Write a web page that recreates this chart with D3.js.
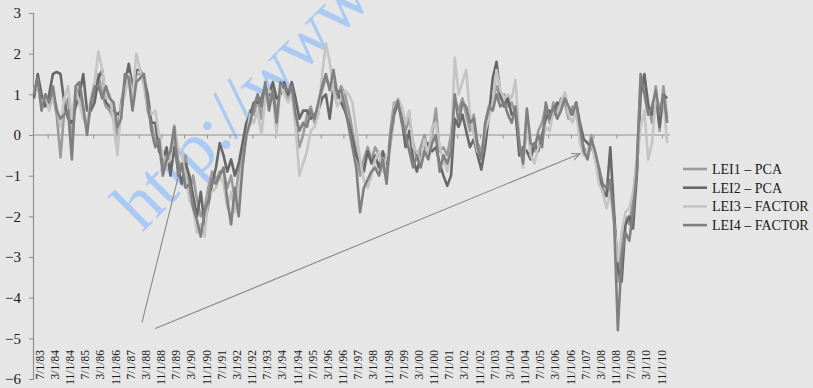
<!DOCTYPE html>
<html>
<head>
<meta charset="utf-8">
<script src="https://cdn.jsdelivr.net/npm/d3@7"></script>
<style>
  html, body { margin: 0; padding: 0; background: #e6e6e6; }
  svg { display: block; }
</style>
</head>
<body>
<svg id="chart" width="813" height="388"></svg>
<script>
// Monthly category axis: April 1983 through March 2011
const firstMonth = new Date(1983, 3, 1);
const lastMonth = new Date(2011, 2, 1);

// Category labels shown every eighth month
const tickLabels = [
  "7/1/83","3/1/84","11/1/84","7/1/85","3/1/86","11/1/86","7/1/87","3/1/88",
  "11/1/88","7/1/89","3/1/90","11/1/90","7/1/91","3/1/92","11/1/92","7/1/93",
  "3/1/94","11/1/94","7/1/95","3/1/96","11/1/96","7/1/97","3/1/98","11/1/98",
  "7/1/99","3/1/00","11/1/00","7/1/01","3/1/02","11/1/02","7/1/03","3/1/04",
  "11/1/04","7/1/05","3/1/06","11/1/06","7/1/07","3/1/08","11/1/08","7/1/09",
  "3/1/10","11/1/10"
];

const yTicks = [3, 2, 1, 0, -1, -2, -3, -4, -5, -6];

const seriesNames = ["LEI1 \u2013 PCA", "LEI2 \u2013 PCA", "LEI3 \u2013 FACTOR", "LEI4 \u2013 FACTOR"];
const seriesColors = ["#9b9b9b", "#686868", "#c4c4c4", "#808080"];

// Index readings, one every two months starting April 1983
const lei1 = [
  1.0,1.3,0.8,0.9,0.7,1.0,0.5,-0.55,0.6,0.9,-0.2,0.9,1.2,0.5,0.2,0.7,1.0,1.5,1.0,0.7,
  0.6,0.4,0.0,0.8,1.3,1.7,0.8,1.5,1.5,1.3,0.6,0.3,-0.2,-0.3,-0.8,-0.4,-0.9,0.2,-0.6,-0.9,
  -0.5,-1.4,-1.0,-1.6,-2.0,-1.8,-1.3,-0.9,-1.1,-0.9,-0.9,-1.3,-1.0,-1.6,-0.9,-0.4,0.1,0.6,0.5,0.9,
  0.4,1.1,0.8,1.2,0.5,1.1,1.2,0.9,1.2,0.3,-0.3,0.0,0.5,0.7,0.3,0.7,1.1,1.4,1.2,1.3,
  0.9,1.2,1.0,0.6,0.1,-0.4,-1.0,-0.6,-0.3,-0.6,-0.3,-0.5,-0.7,-1.0,0.1,0.8,0.7,0.5,0.1,0.4,
  -0.2,-0.6,-0.3,0.0,-0.4,0.0,0.65,-0.4,-0.3,-0.5,0.0,0.9,0.6,0.9,0.5,0.1,0.5,-0.2,-0.4,0.0,
  0.6,0.9,1.2,0.9,1.0,0.7,0.8,0.5,-0.3,-0.6,0.2,-0.3,-0.4,0.1,0.3,0.7,0.3,0.8,0.6,0.9,
  0.8,0.4,0.7,0.5,0.1,-0.3,-0.5,0.0,-0.6,-0.9,-1.3,-1.5,-1.2,-2.0,-3.6,-2.7,-2.0,-2.2,-1.6,-0.6,
  1.3,1.4,0.8,0.3,1.2,0.1,1.2,0.4
];
const lei2 = [
  0.9,1.5,1.0,0.7,1.0,1.5,1.55,1.5,0.8,0.4,0.3,0.7,1.0,1.5,0.6,0.6,0.8,1.4,1.6,0.8,
  0.7,0.6,0.5,0.6,1.2,1.75,1.2,1.6,1.6,1.4,1.0,0.3,0.3,-0.4,-0.6,-0.3,-1.0,-0.3,-0.8,-1.2,
  -0.7,-1.0,-1.5,-2.0,-1.4,-2.2,-1.7,-1.2,-0.8,-0.2,-0.5,-0.9,-0.6,-1.0,-0.7,-0.2,0.3,0.5,0.8,0.8,
  0.9,1.2,1.0,1.3,0.9,1.0,1.3,1.0,1.3,0.9,0.4,0.6,0.6,0.4,0.5,0.6,0.9,1.0,0.4,1.2,
  1.1,0.8,0.6,0.3,-0.1,-0.5,-0.7,-0.9,-0.4,-0.7,-0.5,-0.8,-0.4,-0.7,-0.2,0.5,0.8,0.4,-0.3,0.1,
  -0.6,-0.9,-0.5,-0.3,-0.2,-0.4,-0.3,-0.7,-1.0,-1.25,-1.0,0.4,0.2,0.5,0.1,-0.3,-0.1,-0.5,-0.85,-0.3,
  0.5,1.4,1.8,1.0,0.7,0.9,0.5,0.6,-0.5,-0.3,-0.4,-0.6,-0.2,-0.4,0.0,0.4,0.6,0.5,0.8,0.7,
  1.0,0.6,0.5,0.8,0.3,-0.1,-0.2,-0.3,-0.5,-1.0,-1.4,-1.5,-0.3,-1.9,-3.3,-3.6,-2.2,-2.0,-2.3,-1.0,
  1.0,1.5,0.7,0.5,1.0,0.2,1.0,0.9
];
const lei3 = [
  1.1,1.2,0.7,1.0,0.6,0.9,0.7,0.2,0.9,1.2,0.4,1.1,0.8,0.4,0.3,0.9,1.3,2.05,1.6,0.9,
  1.0,0.3,-0.5,0.7,1.0,1.5,0.9,2.0,1.6,1.2,0.7,0.5,0.6,0.0,-0.5,-0.7,-0.6,0.25,-0.3,-0.5,
  -1.0,-1.6,-1.8,-2.4,-2.2,-2.5,-1.5,-1.4,-1.3,-1.0,-1.2,-1.8,-1.4,-1.9,-1.3,-0.7,-0.1,0.5,0.3,0.6,
  0.0,0.9,1.1,1.0,0.0,1.2,1.0,0.8,1.0,0.2,-1.0,-0.7,-0.4,0.1,0.2,0.5,1.5,2.25,1.8,1.1,
  0.7,0.9,1.1,1.0,0.8,0.1,-0.6,-1.1,-1.3,-1.0,-0.6,-0.4,-0.9,-0.5,-0.3,0.7,0.9,0.7,0.3,0.6,
  -0.3,-0.4,-0.7,-0.1,-0.5,0.2,0.3,-0.3,-0.6,-0.9,-0.3,1.9,1.0,1.3,1.6,0.5,0.0,-0.4,-0.5,0.1,
  0.4,0.8,1.6,1.1,0.9,1.0,0.9,1.35,-0.1,-0.8,0.3,-0.5,-0.7,-0.3,-0.2,0.2,0.1,0.6,0.5,0.8,
  1.05,0.5,0.3,0.6,-0.2,-0.5,-0.4,-0.2,-0.6,-1.2,-1.4,-1.8,-1.4,-2.2,-3.1,-2.4,-1.9,-1.8,-1.4,-0.7,
  0.2,0.6,-0.6,-0.2,0.9,0.7,0.9,-0.2
];
const lei4 = [
  1.0,1.4,0.6,1.0,0.8,1.2,0.6,0.4,0.5,0.6,-0.6,1.2,1.3,0.7,0.0,0.8,1.2,1.2,0.9,1.2,
  0.9,0.8,0.2,0.4,1.5,1.4,0.6,1.3,1.4,1.5,0.8,0.1,-0.3,-0.1,-1.0,-0.6,-0.4,0.2,-1.0,-0.7,
  -1.3,-1.2,-1.8,-2.1,-2.5,-1.9,-1.6,-1.1,-1.2,-1.0,-0.8,-1.6,-2.2,-1.3,-2.0,-0.8,0.0,0.3,0.7,1.0,
  0.7,1.3,0.6,1.1,0.3,1.3,1.2,1.1,1.2,0.5,0.1,0.3,0.2,0.6,0.4,0.8,1.2,1.5,1.1,1.6,
  1.0,1.1,0.7,0.2,-0.3,-0.8,-1.9,-1.3,-1.1,-0.9,-0.8,-1.0,-0.6,-1.2,-0.1,0.6,0.85,0.3,0.0,-0.4,
  -0.8,-0.5,-0.8,-0.4,-0.6,-0.2,0.0,-0.9,-0.5,-0.7,-0.4,1.0,0.3,0.8,0.7,0.3,0.4,-0.3,-0.6,0.3,
  0.7,0.6,1.0,0.7,0.8,0.5,0.3,0.7,-0.2,-0.7,0.65,-0.2,-0.3,0.0,-0.3,0.8,0.4,0.7,0.4,0.6,
  0.9,0.7,0.5,0.8,0.2,-0.4,-0.6,-0.1,-0.4,-0.8,-1.2,-1.3,-1.1,-2.1,-4.8,-3.0,-2.4,-2.6,-1.9,-0.9,
  1.5,1.0,0.5,0.7,1.1,0.5,1.0,0.3
];
const seriesValues = [lei1, lei2, lei3, lei4];

// Annotation arrows: [start date, start value, end date, end value]
const annotations = [
  { from: [new Date(1988, 0, 1), -4.61], to: [new Date(1989, 7, 1), -1.05], head: false },
  { from: [new Date(1988, 7, 1), -4.76], to: [new Date(2007, 3, 1), -0.46], head: true }
];

const svg = d3.select("#chart");
const W = 813, H = 388;
svg.append("rect").attr("width", W).attr("height", H).attr("fill", "#e6e6e6");

const months = d3.timeMonth.range(firstMonth, d3.timeMonth.offset(lastMonth, 1));
const monthIndex = d => d3.timeMonth.count(firstMonth, d);

const x = d3.scaleBand()
  .domain(d3.range(months.length))
  .range([33, 670])
  .paddingInner(0).paddingOuter(0);
const xc = d => x(monthIndex(d)) + x.bandwidth() / 2;

const y = d3.scaleLinear().domain([-6, 3]).range([379, 13]);

const serif = "'Liberation Serif', 'DejaVu Serif', serif";

// Watermark
svg.append("text")
  .attr("transform", "translate(142,233) rotate(-45)")
  .attr("font-family", serif)
  .attr("font-size", 72)
  .attr("fill", "#abcaf3")
  .text("http://www");

// Y axis
const yAxis = d3.axisLeft(y).tickValues(yTicks).tickSize(4).tickPadding(8);
const gy = svg.append("g").attr("transform", "translate(33,0)").call(yAxis);
gy.select(".domain").attr("stroke", "#8f8f8f").attr("stroke-width", 1.2);
gy.selectAll(".tick line").attr("stroke", "#8f8f8f");
gy.selectAll(".tick text")
  .attr("font-family", serif).attr("font-size", 15).attr("fill", "#1a1a1a");

// Category axis through zero
const gx = svg.append("g");
gx.append("line")
  .attr("x1", 33).attr("x2", 670)
  .attr("y1", y(0)).attr("y2", y(0))
  .attr("stroke", "#8f8f8f").attr("stroke-width", 1.2);
const yearTicks = d3.timeMonth.range(new Date(1983, 11, 1), lastMonth, 12);
gx.selectAll("line.tick").data(yearTicks).join("line")
  .attr("class", "tick")
  .attr("x1", d => x(monthIndex(d))).attr("x2", d => x(monthIndex(d)))
  .attr("y1", y(0)).attr("y2", y(0) + 3.5)
  .attr("stroke", "#8f8f8f");

const parseLabel = d3.timeParse("%m/%d/%y");
svg.append("g").selectAll("text").data(tickLabels).join("text")
  .attr("transform", d => `translate(${xc(parseLabel(d))},350) rotate(-90)`)
  .attr("text-anchor", "end")
  .attr("dy", "0.35em")
  .attr("font-family", serif)
  .attr("font-size", 11.5)
  .attr("fill", "#1a1a1a")
  .text(d => d);

// Series lines
const dataDates = d3.timeMonth.range(firstMonth, d3.timeMonth.offset(lastMonth, 1), 2);
const line = d3.line()
  .x((d, i) => xc(dataDates[i]))
  .y(d => y(d));
seriesValues.forEach((vals, k) => {
  svg.append("path")
    .datum(vals)
    .attr("d", line)
    .attr("fill", "none")
    .attr("stroke", seriesColors[k])
    .attr("stroke-width", 2.6)
    .attr("stroke-linejoin", "round");
});

// Annotation arrows
const defs = svg.append("defs");
defs.append("marker")
  .attr("id", "openArrow")
  .attr("viewBox", "0 0 10 10")
  .attr("refX", 9).attr("refY", 5)
  .attr("markerWidth", 9).attr("markerHeight", 9)
  .attr("markerUnits", "userSpaceOnUse")
  .attr("orient", "auto")
  .append("path")
  .attr("d", "M0,1 L9,5 L0,9")
  .attr("fill", "none").attr("stroke", "#888").attr("stroke-width", 1.3);
annotations.forEach(a => {
  svg.append("line")
    .attr("x1", xc(a.from[0])).attr("y1", y(a.from[1]))
    .attr("x2", xc(a.to[0])).attr("y2", y(a.to[1]))
    .attr("stroke", "#888").attr("stroke-width", 1.1)
    .attr("marker-end", a.head ? "url(#openArrow)" : null);
});

// Legend
const legend = svg.append("g").attr("transform", "translate(683,169)");
seriesNames.forEach((name, k) => {
  const g = legend.append("g").attr("transform", `translate(0,${k * 18.7})`);
  g.append("line").attr("x1", 0).attr("x2", 24).attr("y1", 0).attr("y2", 0)
    .attr("stroke", seriesColors[k]).attr("stroke-width", 2.6);
  g.append("text").attr("x", 29).attr("dy", "0.35em")
    .attr("font-family", serif).attr("font-size", 14).attr("fill", "#1a1a1a")
    .text(name);
});
</script>
</body>
</html>
